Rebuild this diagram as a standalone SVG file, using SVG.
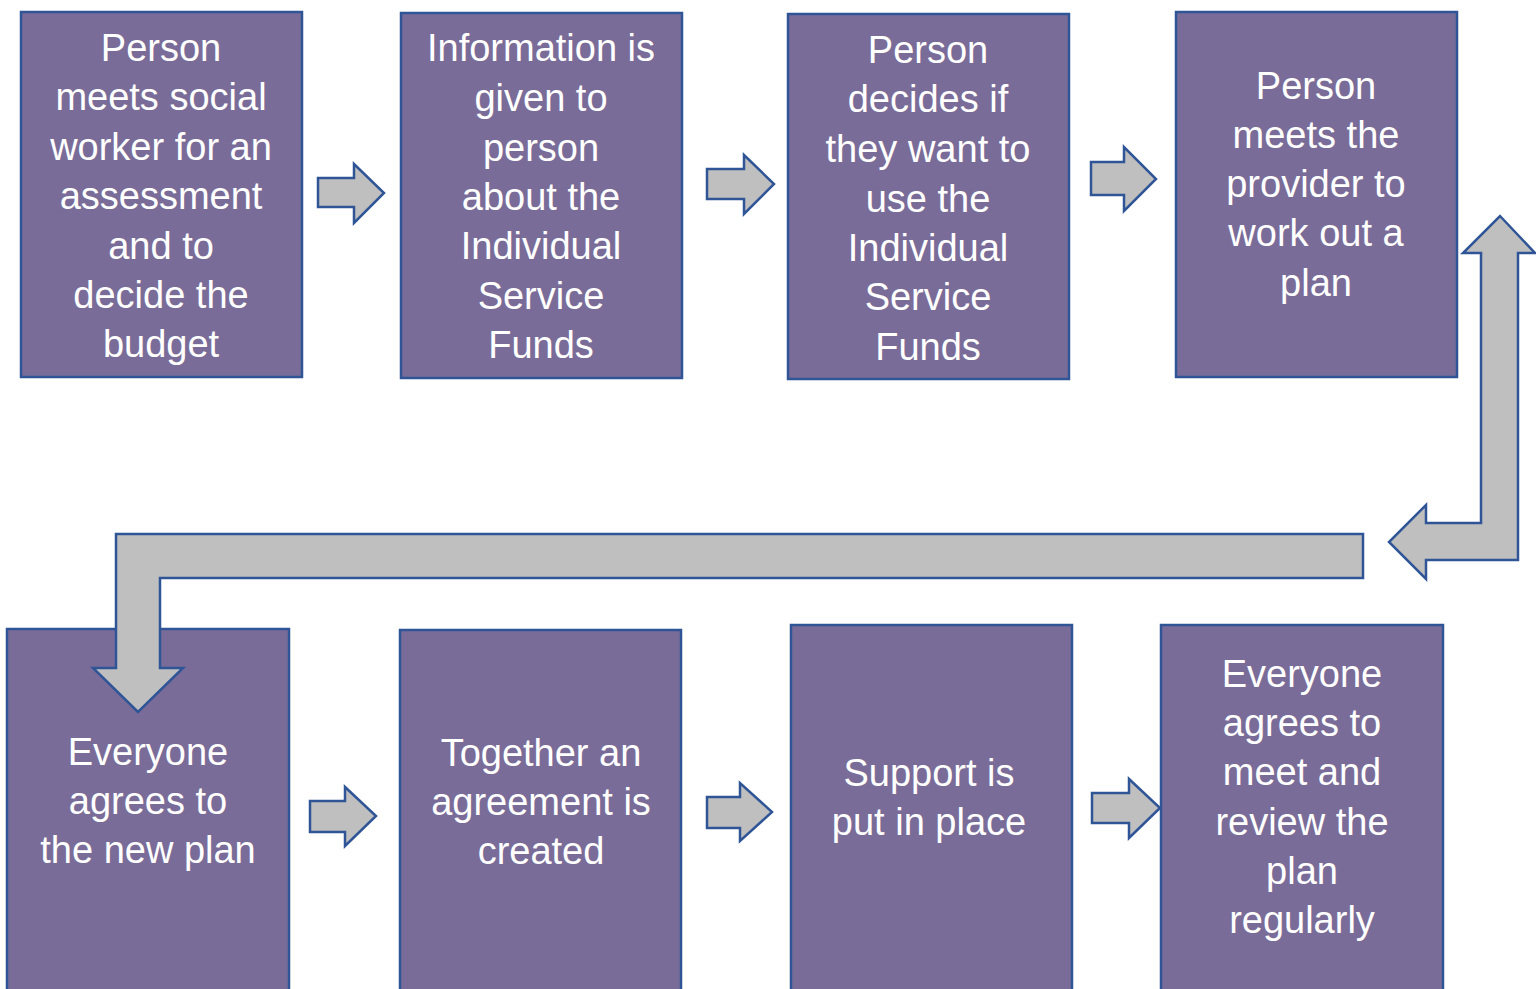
<svg xmlns="http://www.w3.org/2000/svg" width="1536" height="989" viewBox="0 0 1536 989">
  <style>
    .box { fill: #7a6c98; stroke: #2f5597; stroke-width: 2.5; }
    .arrow { fill: #bfbfbf; stroke: #2f5597; stroke-width: 2.5; stroke-linejoin: miter; }
    .label text { fill: #ffffff; font-family: "Liberation Sans", Arial, sans-serif; font-size: 38px; text-anchor: middle; }
  </style>
  <rect width="1536" height="989" fill="#ffffff"/>

  <!-- Top row -->
  <g id="node-assessment">
    <rect class="box" x="21" y="12" width="281" height="365"/>
    <g class="label">
      <text x="161" y="61">Person</text>
      <text x="161" y="110">meets social</text>
      <text x="161" y="160">worker for an</text>
      <text x="161" y="209">assessment</text>
      <text x="161" y="259">and to</text>
      <text x="161" y="308">decide the</text>
      <text x="161" y="357">budget</text>
    </g>
  </g>
  <g id="node-information">
    <rect class="box" x="401" y="13" width="281" height="365"/>
    <g class="label">
      <text x="541" y="61">Information is</text>
      <text x="541" y="111">given to</text>
      <text x="541" y="161">person</text>
      <text x="541" y="210">about the</text>
      <text x="541" y="259">Individual</text>
      <text x="541" y="309">Service</text>
      <text x="541" y="358">Funds</text>
    </g>
  </g>
  <g id="node-decides">
    <rect class="box" x="788" y="14" width="281" height="365"/>
    <g class="label">
      <text x="928" y="63">Person</text>
      <text x="928" y="112">decides if</text>
      <text x="928" y="162">they want to</text>
      <text x="928" y="212">use the</text>
      <text x="928" y="261">Individual</text>
      <text x="928" y="310">Service</text>
      <text x="928" y="360">Funds</text>
    </g>
  </g>
  <g id="node-provider">
    <rect class="box" x="1176" y="12" width="281" height="365"/>
    <g class="label">
      <text x="1316" y="99">Person</text>
      <text x="1316" y="148">meets the</text>
      <text x="1316" y="197">provider to</text>
      <text x="1316" y="246">work out a</text>
      <text x="1316" y="296">plan</text>
    </g>
  </g>

  <!-- Bottom row -->
  <g id="node-agree-plan">
    <rect class="box" x="7" y="629" width="282" height="370"/>
    <g class="label">
      <text x="148" y="765">Everyone</text>
      <text x="148" y="814">agrees to</text>
      <text x="148" y="863">the new plan</text>
    </g>
  </g>
  <g id="node-agreement">
    <rect class="box" x="400" y="630" width="281" height="370"/>
    <g class="label">
      <text x="541" y="766">Together an</text>
      <text x="541" y="815">agreement is</text>
      <text x="541" y="864">created</text>
    </g>
  </g>
  <g id="node-support">
    <rect class="box" x="791" y="625" width="281" height="375"/>
    <g class="label">
      <text x="929" y="786">Support is</text>
      <text x="929" y="835">put in place</text>
    </g>
  </g>
  <g id="node-review">
    <rect class="box" x="1161" y="625" width="282" height="375"/>
    <g class="label">
      <text x="1302" y="687">Everyone</text>
      <text x="1302" y="736">agrees to</text>
      <text x="1302" y="785">meet and</text>
      <text x="1302" y="835">review the</text>
      <text x="1302" y="884">plan</text>
      <text x="1302" y="933">regularly</text>
    </g>
  </g>

  <!-- Connectors -->
  <g id="connectors">
    <polygon class="arrow" points="318,178 354,178 354,164 384,193 354,223 354,207 318,207"/>
    <polygon class="arrow" points="707,169 744,169 744,155 774,184 744,214 744,199 707,199"/>
    <polygon class="arrow" points="1091,162 1124,162 1124,147 1156,179 1124,211 1124,195 1091,195"/>
    <!-- return path: up from the lower right, then back to the left -->
    <polygon class="arrow" points="1500,216 1535,253 1518,253 1518,560 1426,560 1426,579 1389,542 1426,505 1426,523 1481,523 1481,253 1463,253"/>
    <polygon class="arrow" points="1363,534 1363,578 160,578 160,668 183,668 138,712 93,668 116,668 116,534"/>
    <polygon class="arrow" points="310,801 345,801 345,787 376,816 345,846 345,832 310,832"/>
    <polygon class="arrow" points="707,797 740,797 740,783 772,812 740,841 740,828 707,828"/>
    <polygon class="arrow" points="1092,793 1129,793 1129,779 1160,808 1129,838 1129,823 1092,823"/>
  </g>
</svg>
